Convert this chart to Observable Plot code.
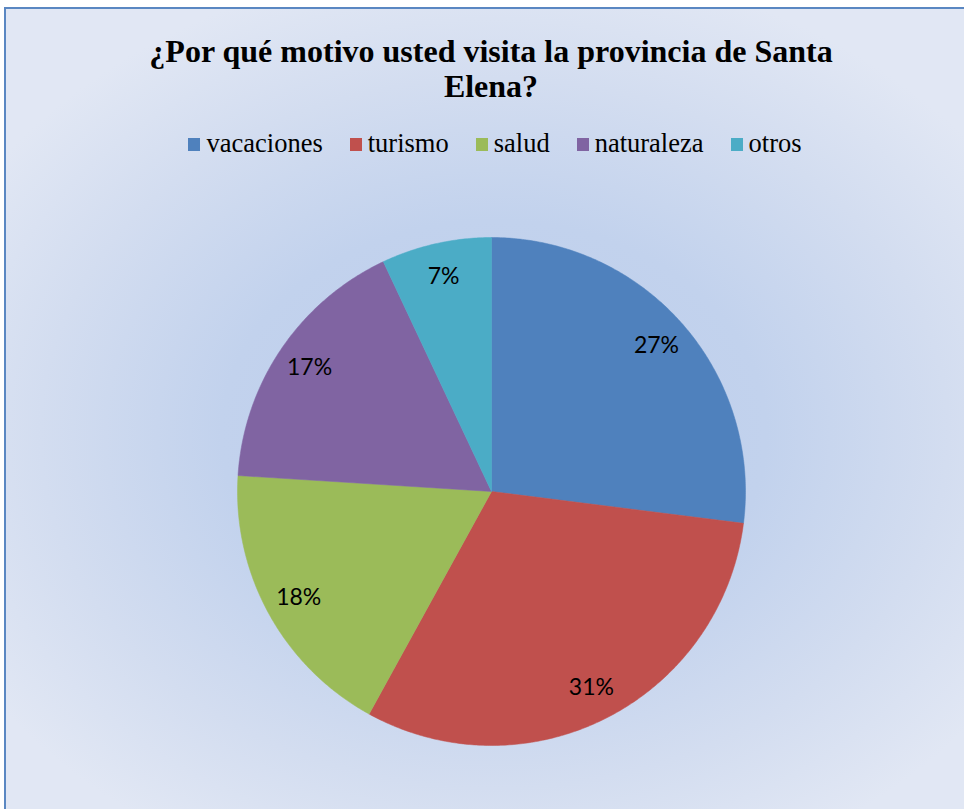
<!DOCTYPE html>
<html>
<head>
<meta charset="utf-8">
<script src="https://cdn.jsdelivr.net/npm/d3@7"></script>
<script src="https://cdn.jsdelivr.net/npm/@observablehq/plot@0.6"></script>
<style>
  html, body { margin: 0; padding: 0; width: 964px; height: 809px; overflow: hidden; background: #fff; }
  #frame {
    position: absolute; left: 4px; top: 7px; width: 980px; height: 820px;
    border: 2px solid #5a87c2; box-sizing: border-box;
    background: radial-gradient(ellipse 62% 58% at 50% 52%, #bccdec 0%, #c2d2ed 45%, #d3ddf0 75%, #e1e7f4 100%);
  }
  #title {
    position: absolute; left: 4px; top: 34px; width: 974px; text-align: center;
    font-family: "Liberation Serif", serif; font-weight: bold;
    font-size: 32px; line-height: 35px; color: #000;
  }
  #legend {
    position: absolute; left: 4px; top: 128px; width: 982px; text-align: center;
    font-size: 26.5px; line-height: 30px; color: #000;
    white-space: nowrap;
  }
  .serif { font-family: "Liberation Serif", "Times New Roman", Tinos, "DejaVu Serif", serif !important; font-weight: normal; }
  #legend span.item { margin-left: 27px; }
  #legend span.item:first-child { margin-left: 0; }
  #legend span.sw { display: inline-block; width: 12px; height: 13px; margin-right: 6px; vertical-align: 1px; }
  #chart { position: absolute; left: 0; top: 191px; }
</style>
</head>
<body>
<div id="frame"></div>
<div id="title">¿Por qué motivo usted visita la provincia de Santa<br>Elena?</div>
<div id="legend" class="serif"></div>
<div id="chart"></div>
<script>
const categories = ["vacaciones", "turismo", "salud", "naturaleza", "otros"];
const values = [27, 31, 18, 17, 7];
const labels = ["27%", "31%", "18%", "17%", "7%"];
const colors = ["#4f81bd", "#c0504d", "#9bbb59", "#8064a2", "#4bacc6"];

// legend
const legend = document.getElementById("legend");
categories.forEach((c, i) => {
  const it = document.createElement("span");
  it.className = "item serif";
  const sw = document.createElement("span");
  sw.className = "sw";
  sw.style.background = colors[i];
  it.appendChild(sw);
  it.appendChild(document.createTextNode(c));
  legend.appendChild(it);
});

// pie geometry in unit-radius coordinates (clockwise from 12 o'clock)
const total = d3.sum(values);
const slices = [];
const labelPts = [];
let acc = 0;
values.forEach((v, i) => {
  const a0 = acc / total * 2 * Math.PI;
  const a1 = (acc + v) / total * 2 * Math.PI;
  acc += v;
  const pts = [{name: categories[i], x: 0, y: 0}];
  const n = Math.max(2, Math.ceil((a1 - a0) / (Math.PI / 360)));
  for (let k = 0; k <= n; k++) {
    const a = a0 + (a1 - a0) * k / n;
    pts.push({name: categories[i], x: Math.sin(a), y: Math.cos(a)});
  }
  pts.push({name: categories[i], x: 0, y: 0});
  slices.push(...pts);
  const am = (a0 + a1) / 2;
  labelPts.push({label: labels[i], x: 0.866 * Math.sin(am), y: 0.866 * Math.cos(am)});
});

const R = 254, W = 964, H = 600, cx = 491, cy = 300;
const plot = Plot.plot({
  width: W, height: H,
  margin: 0,
  x: {domain: [-cx / R, (W - cx) / R], axis: null},
  y: {domain: [-(H - cy) / R, cy / R], axis: null},
  color: {domain: categories, range: colors},
  style: {background: "transparent", overflow: "visible"},
  marks: [
    Plot.line(slices, {x: "x", y: "y", z: "name", fill: "name", stroke: "name", strokeWidth: 0.5, curve: "linear"}),
    Plot.text(labelPts, {x: "x", y: "y", text: "label", fontSize: 23, fill: "#000",
      fontFamily: "Lato, 'Open Sans', sans-serif"})
  ]
});
document.getElementById("chart").appendChild(plot);
</script>
</body>
</html>
